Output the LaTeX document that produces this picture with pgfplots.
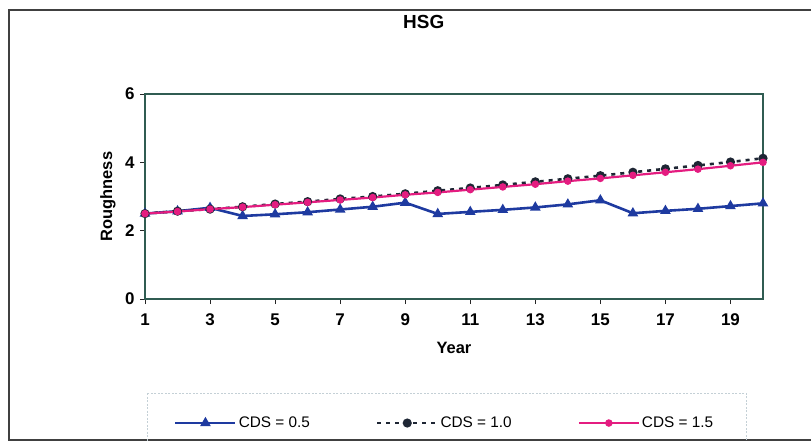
\documentclass[border=0pt]{standalone}
\usepackage{pgfplots}
\pgfplotsset{compat=1.18}
\usepackage{fontspec}
\setmainfont{Liberation Sans}

\definecolor{framecol}{RGB}{48,92,82}
\definecolor{seriesblue}{RGB}{30,58,160}
\definecolor{seriesdark}{RGB}{30,38,52}
\definecolor{seriespink}{RGB}{228,28,128}

\begin{document}
\begin{tikzpicture}
\useasboundingbox (0,0) rectangle (811bp,-442bp);
% chart area border
\draw[line width=1.3bp, black!75] (815bp,-10bp) -- (9bp,-10bp) -- (9bp,-440bp) -- (815bp,-440bp);
% legend frame
\draw[line width=0.8bp, cyan!20!gray!45, dash pattern=on 2bp off 1.5bp] (147bp,-393bp) rectangle (746bp,-446bp);

\begin{axis}[
  at={(145bp,-299bp)}, anchor=south west,
  scale only axis, width=618bp, height=205bp,
  xmin=1, xmax=20, ymin=0, ymax=6,
  xtick={1,3,...,19}, ytick={0,2,4,6},
  xtick pos=lower, ytick pos=left,
  tick align=outside, major tick length=5bp,
  tick style={black!85, line width=1bp},
  axis line style={framecol, line width=1.4bp},
  /pgf/number format/assume math mode=true,
  tick label style={font=\fontsize{17}{19}\selectfont\bfseries},
  xticklabel style={yshift=-6bp},
  yticklabel style={xshift=-2bp},
  xlabel={Year}, ylabel={Roughness},
  label style={font=\fontsize{16.5}{19}\selectfont\bfseries},
  xlabel style={at={(axis description cs:0.5,-0.239)}, anchor=center},
  ylabel style={at={(axis description cs:-0.06,0.5)}, anchor=center},
  title={HSG},
  title style={font=\fontsize{19}{21}\selectfont\bfseries, at={(axis description cs:0.451,1.324)}, anchor=center},
  clip=false,
  legend columns=3,
  legend image code/.code={\draw[mark repeat=2,mark phase=2,#1] plot coordinates {(0bp,0bp)(30bp,0bp)(60bp,0bp)};},
  legend style={at={(axis description cs:0.042,-0.605)}, anchor=west, draw=none, fill=none,
    font=\fontsize{15.4}{18}\selectfont,
    nodes={inner xsep=2bp},
    /tikz/every even column/.append style={column sep=64bp}},
]
\addplot[seriesblue, line width=2.6bp, mark=triangle*, mark size=3.6bp, mark options={solid}]
  coordinates {(1,2.50)(2,2.57)(3,2.67)(4,2.43)(5,2.48)(6,2.54)(7,2.62)(8,2.70)(9,2.82)(10,2.49)
               (11,2.55)(12,2.61)(13,2.68)(14,2.77)(15,2.89)(16,2.51)(17,2.58)(18,2.64)(19,2.72)(20,2.80)};
\addlegendentry{CDS = 0.5}
\addplot[seriesdark, line width=2.6bp, dash pattern=on 4bp off 5bp, mark=*, mark size=3.2bp, mark options={solid}]
  coordinates {(1,2.50)(2,2.57)(3,2.63)(4,2.70)(5,2.78)(6,2.85)(7,2.93)(8,3.00)(9,3.08)(10,3.17)
               (11,3.25)(12,3.34)(13,3.43)(14,3.52)(15,3.61)(16,3.71)(17,3.81)(18,3.91)(19,4.01)(20,4.12)};
\addlegendentry{CDS = 1.0}
\addplot[seriespink, line width=2.2bp, mark=*, mark size=2.6bp, mark options={solid}]
  coordinates {(1,2.50)(2,2.56)(3,2.63)(4,2.69)(5,2.76)(6,2.83)(7,2.90)(8,2.97)(9,3.05)(10,3.12)
               (11,3.20)(12,3.28)(13,3.36)(14,3.45)(15,3.53)(16,3.62)(17,3.71)(18,3.80)(19,3.90)(20,4.00)};
\addlegendentry{CDS = 1.5}
\end{axis}
\end{tikzpicture}
\end{document}
